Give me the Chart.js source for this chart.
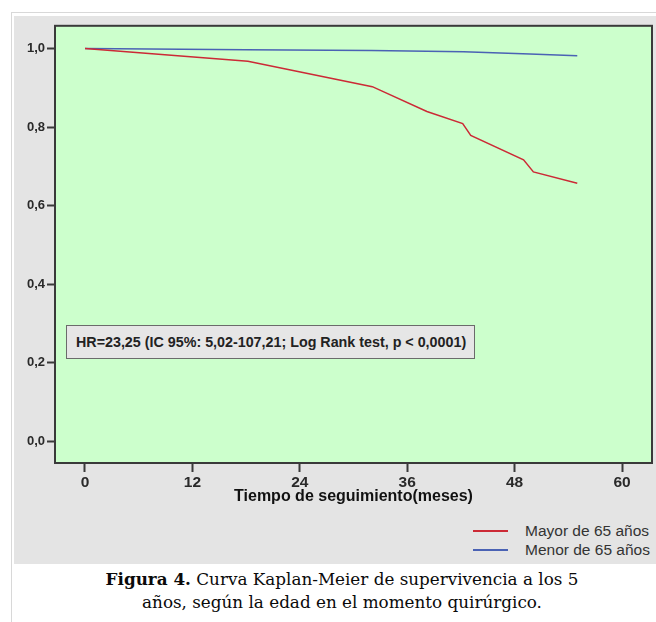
<!DOCTYPE html>
<html>
<head>
<meta charset="utf-8">
<script src="https://cdn.jsdelivr.net/npm/chart.js@4/dist/chart.umd.min.js"></script>
<style>
  body { margin: 0; background: #fff; width: 656px; height: 622px; position: relative; overflow: hidden; font-family: "Liberation Sans", Arial, sans-serif; }
  .frame_v { position: absolute; left: 11px; top: 12px; width: 1px; height: 610px; background: #d8d8d8; }
  .frame_h { position: absolute; left: 11px; top: 12px; width: 645px; height: 1px; background: #d8d8d8; }
  #panel { position: absolute; left: 14px; top: 16px; width: 642px; height: 548px; background: #e4e4e4; }
  #km_chart_wrap { position: absolute; left: 0; top: 0; width: 642px; height: 490px; }
  #hr_box { position: absolute; left: 52px; top: 309px; width: 398px; height: 32px; border: 1px solid #6b6b6b; background: #e6e6e6;
            font: bold 14.3px "Liberation Sans", Arial, sans-serif; color: #222; line-height: 32px; padding-left: 9px; box-sizing: content-box; white-space: nowrap; }
  #legend { position: absolute; left: 459px; top: 505px; }
  .leg_item { height: 19px; display: flex; align-items: center; font-size: 15.5px; color: #333; white-space: nowrap; }
  .leg_line { width: 35px; height: 2px; margin-right: 17px; }
  #caption { position: absolute; left: 0; top: 568px; width: 684px; text-align: center; font: 16.8px "DejaVu Serif", serif; line-height: 23px; color: #0a0a0a; }
</style>
</head>
<body>
<div class="frame_v"></div>
<div class="frame_h"></div>
<div id="panel">
  <div id="km_chart_wrap"><canvas id="km_chart"></canvas></div>
  <div id="hr_box">HR=23,25 (IC 95%: 5,02-107,21; Log Rank test, p &lt; 0,0001)</div>
  <div id="legend"></div>
</div>
<div id="caption"><b>Figura 4.</b> Curva Kaplan-Meier de supervivencia a los 5<br>años, según la edad en el momento quirúrgico.</div>

<script>
// survival curves (months, cumulative survival)
const months_mayor = [0, 18.2, 32.1, 38.2, 42.2, 43.1, 49.0, 50.1, 55.0];
const surv_mayor = [1.0, 0.968, 0.903, 0.840, 0.809, 0.779, 0.717, 0.686, 0.657];
const months_menor = [0, 18, 32, 42.3, 49.7, 55.0];
const surv_menor = [1.0, 0.997, 0.995, 0.992, 0.986, 0.982];

const x_ticks = [0, 12, 24, 36, 48, 60];
const y_ticks = [0, 0.2, 0.4, 0.6, 0.8, 1.0];
const series_names = ['Mayor de 65 años', 'Menor de 65 años'];
const series_colors = ['#cc2a36', '#4a62b4'];

const to_points = (xs, ys) => xs.map((x, i) => ({x: x, y: ys[i]}));
const comma = v => v.toFixed(1).replace('.', ',');

// green plot background + dark frame around the chart area
const plot_frame = {
  id: 'plot_frame',
  beforeDatasetsDraw(chart){
    const a = chart.chartArea, ctx = chart.ctx;
    ctx.save();
    ctx.fillStyle = '#ccffcc';
    ctx.fillRect(a.left, a.top, a.right - a.left, a.bottom - a.top);
    ctx.restore();
  },
  afterDatasetsDraw(chart){
    const a = chart.chartArea, ctx = chart.ctx;
    ctx.save();
    ctx.strokeStyle = '#3a3a3a';
    ctx.lineWidth = 2;
    ctx.strokeRect(a.left, a.top, a.right - a.left, a.bottom - a.top);
    ctx.restore();
  }
};

let ctx = document.getElementById('km_chart').getContext('2d');
let km_chart = new Chart(ctx, {
  type: 'line',
  data: {
    datasets: [
      {label: series_names[0], data: to_points(months_mayor, surv_mayor), borderColor: series_colors[0], borderWidth: 1.5, pointRadius: 0, fill: false, tension: 0},
      {label: series_names[1], data: to_points(months_menor, surv_menor), borderColor: series_colors[1], borderWidth: 1.5, pointRadius: 0, fill: false, tension: 0}
    ]
  },
  options: {
    responsive: true,
    maintainAspectRatio: false,
    animation: false,
    layout: { padding: { top: 8, right: 4, left: 0, bottom: 0 } },
    plugins: { legend: { display: false }, tooltip: { enabled: false } },
    scales: {
      x: {
        type: 'linear', min: -3.35, max: 63.35,
        afterBuildTicks: s => { s.ticks = x_ticks.map(v => ({value: v})); },
        afterFit: s => { s.height = 43; },
        grid: { drawOnChartArea: false, drawTicks: true, tickLength: 9, tickColor: '#3a3a3a', tickWidth: 2 },
        border: { display: false },
        ticks: { padding: 1, color: '#2a2a2a', font: { family: '"Liberation Sans Narrow", "Liberation Sans"', weight: 'bold', size: 15.5 } },
        title: { display: true, text: 'Tiempo de seguimiento(meses)', color: '#111', padding: { top: 2, bottom: 0 },
                 font: { family: 'Liberation Sans', weight: 'bold', size: 16 } }
      },
      y: {
        type: 'linear', min: -0.055, max: 1.058,
        afterBuildTicks: s => { s.ticks = y_ticks.map(v => ({value: v})); },
        afterFit: s => { s.width = 41; },
        grid: { drawOnChartArea: false, drawTicks: true, tickLength: 8, tickColor: '#3a3a3a', tickWidth: 2 },
        border: { display: false },
        ticks: { padding: 2, color: '#2a2a2a', callback: v => comma(v), font: { family: 'Liberation Sans', weight: 'bold', size: 13 } }
      }
    }
  },
  plugins: [plot_frame]
});

// legend built from the datasets
const legend = document.getElementById('legend');
km_chart.data.datasets.forEach(ds => {
  legend.insertAdjacentHTML('beforeend',
    `<div class="leg_item"><span class="leg_line" style="background:${ds.borderColor}"></span>${ds.label}</div>`);
});
</script>
</body>
</html>
